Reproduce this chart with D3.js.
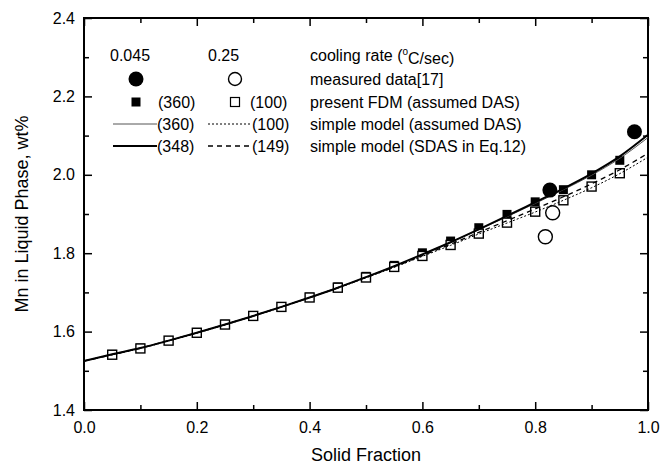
<!DOCTYPE html>
<html>
<head>
<meta charset="utf-8">
<script src="https://cdn.jsdelivr.net/npm/d3@7"></script>
<style>
  body { margin: 0; background: #fff; }
  svg { display: block; font-family: Arial, "Liberation Sans", sans-serif; }
</style>
</head>
<body>
<script>
// solid fraction positions of the FDM points
const fracSq = [0.05, 0.10, 0.15, 0.20, 0.25, 0.30, 0.35, 0.40, 0.45, 0.50,
                0.55, 0.60, 0.65, 0.70, 0.75, 0.80, 0.85, 0.90, 0.95];
const fdm360 = [1.542, 1.558, 1.577, 1.598, 1.619, 1.641, 1.664, 1.688, 1.714, 1.741,
                1.769, 1.801, 1.831, 1.865, 1.899, 1.931, 1.962, 2.000, 2.037];
const fdm100 = [1.541, 1.557, 1.577, 1.597, 1.618, 1.640, 1.663, 1.687, 1.712, 1.738,
                1.765, 1.793, 1.821, 1.850, 1.878, 1.906, 1.935, 1.970, 2.004];

// simple model curves
const fracLine = [0, 0.05, 0.10, 0.15, 0.20, 0.25, 0.30, 0.35, 0.40, 0.45, 0.50,
                  0.55, 0.60, 0.65, 0.70, 0.75, 0.80, 0.85, 0.90, 0.95, 1.0];
const sm348 = [1.525, 1.542, 1.558, 1.577, 1.597, 1.618, 1.640, 1.663, 1.687, 1.712, 1.739,
               1.767, 1.797, 1.828, 1.861, 1.895, 1.930, 1.965, 2.003, 2.047, 2.102];
const sm360 = [1.525, 1.542, 1.558, 1.577, 1.597, 1.618, 1.640, 1.663, 1.687, 1.712, 1.739,
               1.767, 1.797, 1.828, 1.860, 1.893, 1.927, 1.962, 1.999, 2.042, 2.095];
const sm100 = [1.525, 1.541, 1.557, 1.576, 1.596, 1.617, 1.639, 1.662, 1.686, 1.711, 1.737,
               1.764, 1.792, 1.820, 1.849, 1.877, 1.905, 1.935, 1.967, 2.003, 2.045];
const sm149 = [1.525, 1.541, 1.558, 1.577, 1.597, 1.618, 1.640, 1.663, 1.687, 1.712, 1.738,
               1.765, 1.794, 1.823, 1.853, 1.883, 1.913, 1.944, 1.977, 2.013, 2.055];

// measured data [17]
const meas045 = [[0.826, 1.961], [0.976, 2.110]];
const meas025 = [[0.831, 1.903], [0.818, 1.842]];

const xTicks = [0.0, 0.2, 0.4, 0.6, 0.8, 1.0];
const yTicks = [1.4, 1.6, 1.8, 2.0, 2.2, 2.4];
const xMinor = [0.1, 0.3, 0.5, 0.7, 0.9];
const yMinor = [1.5, 1.7, 1.9, 2.1, 2.3];

const width = 663, height = 475;
const pLeft = 84, pRight = 648, pTop = 18, pBottom = 410;

const x = d3.scaleLinear().domain([0, 1]).range([pLeft, pRight]);
const y = d3.scaleLinear().domain([1.4, 2.4]).range([pBottom, pTop]);

const svg = d3.select("body").append("svg")
  .attr("width", width)
  .attr("height", height);

// axes: ticks point inward on all four sides
function styleAxis(g) {
  g.select(".domain").remove();
  g.selectAll(".tick line").attr("stroke", "#000").attr("stroke-width", 1.5);
  g.selectAll(".tick text").attr("font-size", 16).attr("fill", "#000")
    .attr("font-family", "Arial, 'Liberation Sans', sans-serif");
}

svg.append("g").attr("transform", `translate(0,${pBottom})`)
  .call(d3.axisBottom(x).tickValues(xTicks).tickSize(-8).tickPadding(12).tickFormat(d3.format(".1f")))
  .call(styleAxis);
svg.append("g").attr("transform", `translate(0,${pBottom})`)
  .call(d3.axisBottom(x).tickValues(xMinor).tickSize(-5).tickFormat(""))
  .call(styleAxis);
svg.append("g").attr("transform", `translate(0,${pTop})`)
  .call(d3.axisTop(x).tickValues(xTicks).tickSize(-8).tickFormat(""))
  .call(styleAxis);
svg.append("g").attr("transform", `translate(0,${pTop})`)
  .call(d3.axisTop(x).tickValues(xMinor).tickSize(-5).tickFormat(""))
  .call(styleAxis);
svg.append("g").attr("transform", `translate(${pLeft},0)`)
  .call(d3.axisLeft(y).tickValues(yTicks).tickSize(-8).tickPadding(9).tickFormat(d3.format(".1f")))
  .call(styleAxis);
svg.append("g").attr("transform", `translate(${pLeft},0)`)
  .call(d3.axisLeft(y).tickValues(yMinor).tickSize(-5).tickFormat(""))
  .call(styleAxis);
svg.append("g").attr("transform", `translate(${pRight},0)`)
  .call(d3.axisRight(y).tickValues(yTicks).tickSize(-8).tickFormat(""))
  .call(styleAxis);
svg.append("g").attr("transform", `translate(${pRight},0)`)
  .call(d3.axisRight(y).tickValues(yMinor).tickSize(-5).tickFormat(""))
  .call(styleAxis);

svg.append("rect")
  .attr("x", pLeft).attr("y", pTop)
  .attr("width", pRight - pLeft).attr("height", pBottom - pTop)
  .attr("fill", "none").attr("stroke", "#000").attr("stroke-width", 2);

// axis titles
svg.append("text")
  .attr("x", (pLeft + pRight) / 2).attr("y", 461)
  .attr("text-anchor", "middle").attr("font-size", 18)
  .text("Solid Fraction");
svg.append("text")
  .attr("transform", `translate(28,${(pTop + pBottom) / 2}) rotate(-90)`)
  .attr("text-anchor", "middle").attr("font-size", 18)
  .text("Mn in Liquid Phase, wt%");

// FDM squares
const sq = 9;
svg.append("g").selectAll("rect")
  .data(fracSq.map((f, i) => [f, fdm360[i]]))
  .join("rect")
  .attr("x", d => x(d[0]) - sq / 2).attr("y", d => y(d[1]) - sq / 2)
  .attr("width", sq).attr("height", sq)
  .attr("fill", "#000");
svg.append("g").selectAll("rect")
  .data(fracSq.map((f, i) => [f, fdm100[i]]))
  .join("rect")
  .attr("x", d => x(d[0]) - sq / 2).attr("y", d => y(d[1]) - sq / 2)
  .attr("width", sq).attr("height", sq)
  .attr("fill", "#fff").attr("stroke", "#000").attr("stroke-width", 1.4);

// model curves
const line = d3.line().x(d => x(d[0])).y(d => y(d[1])).curve(d3.curveMonotoneX);
const curves = [
  { v: sm360, w: 1, c: "#555", dash: null },
  { v: sm100, w: 1, c: "#000", dash: "2,2" },
  { v: sm149, w: 1.3, c: "#000", dash: "5,4" },
  { v: sm348, w: 2, c: "#000", dash: null }
];
svg.append("g").selectAll("path")
  .data(curves)
  .join("path")
  .attr("d", d => line(fracLine.map((f, i) => [f, d.v[i]])))
  .attr("fill", "none")
  .attr("stroke", d => d.c)
  .attr("stroke-width", d => d.w)
  .attr("stroke-dasharray", d => d.dash);

// measured circles
svg.append("g").selectAll("circle")
  .data(meas045)
  .join("circle")
  .attr("cx", d => x(d[0])).attr("cy", d => y(d[1])).attr("r", 7.5)
  .attr("fill", "#000");
svg.append("g").selectAll("circle")
  .data(meas025)
  .join("circle")
  .attr("cx", d => x(d[0])).attr("cy", d => y(d[1])).attr("r", 7)
  .attr("fill", "#fff").attr("stroke", "#000").attr("stroke-width", 1.4);

// legend
const lg = svg.append("g").attr("font-size", 16);
const rowY = [55, 79, 102, 124, 146];
const descX = 310;

lg.append("text").attr("x", 110).attr("y", rowY[0]).attr("dy", "0.35em").text("0.045");
lg.append("text").attr("x", 208).attr("y", rowY[0]).attr("dy", "0.35em").text("0.25");
const cr = lg.append("text").attr("x", descX).attr("y", rowY[0]).attr("dy", "0.35em");
cr.append("tspan").text("cooling rate (");
cr.append("tspan").attr("font-size", 10).attr("dy", "-0.6em").text("o");
cr.append("tspan").attr("dy", "0.6em").text("C/sec)");

lg.append("circle").attr("cx", 136).attr("cy", rowY[1]).attr("r", 7.5).attr("fill", "#000");
lg.append("circle").attr("cx", 235).attr("cy", rowY[1]).attr("r", 6.5)
  .attr("fill", "#fff").attr("stroke", "#000").attr("stroke-width", 1.4);
lg.append("text").attr("x", descX).attr("y", rowY[1]).attr("dy", "0.35em").text("measured data[17]");

lg.append("rect").attr("x", 136 - sq / 2).attr("y", rowY[2] - sq / 2).attr("width", sq).attr("height", sq).attr("fill", "#000");
lg.append("rect").attr("x", 235 - sq / 2).attr("y", rowY[2] - sq / 2).attr("width", sq).attr("height", sq)
  .attr("fill", "#fff").attr("stroke", "#000").attr("stroke-width", 1.2);
lg.append("text").attr("x", 158).attr("y", rowY[2]).attr("dy", "0.35em").text("(360)");
lg.append("text").attr("x", 250).attr("y", rowY[2]).attr("dy", "0.35em").text("(100)");
lg.append("text").attr("x", descX).attr("y", rowY[2]).attr("dy", "0.35em").text("present FDM (assumed DAS)");

const legLines = [
  { row: 3, x0: 113, c: curves[0], lab: "(360)" },
  { row: 3, x0: 208, c: curves[1], lab: "(100)" },
  { row: 4, x0: 113, c: curves[3], lab: "(348)" },
  { row: 4, x0: 208, c: curves[2], lab: "(149)" }
];
legLines.forEach(d => {
  lg.append("line")
    .attr("x1", d.x0).attr("x2", d.x0 + 44)
    .attr("y1", rowY[d.row]).attr("y2", rowY[d.row])
    .attr("stroke", d.c.c).attr("stroke-width", d.c.w)
    .attr("stroke-dasharray", d.c.dash);
  lg.append("text").attr("x", d.x0 + 44).attr("y", rowY[d.row]).attr("dy", "0.35em").text(d.lab);
});
lg.append("text").attr("x", descX).attr("y", rowY[3]).attr("dy", "0.35em").text("simple model (assumed DAS)");
lg.append("text").attr("x", descX).attr("y", rowY[4]).attr("dy", "0.35em").text("simple model (SDAS in Eq.12)");
</script>
</body>
</html>
